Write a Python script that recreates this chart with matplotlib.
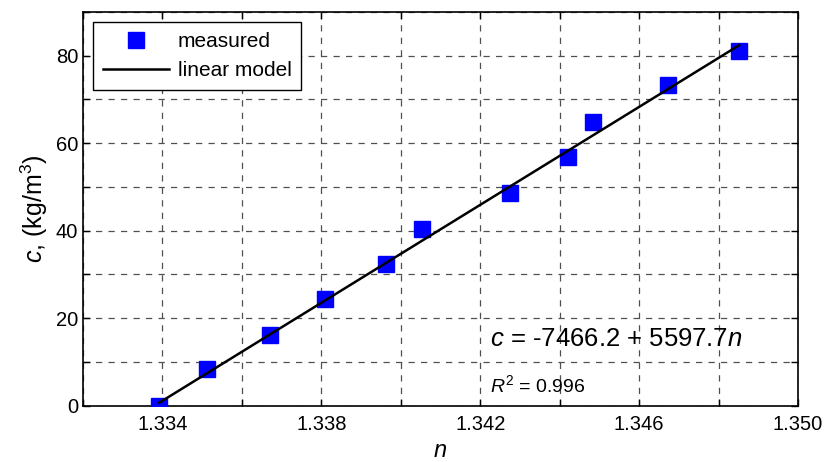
import numpy as np
import matplotlib
matplotlib.use('Agg')
import matplotlib.pyplot as plt
from matplotlib.ticker import MultipleLocator

plt.rcParams['font.family'] = ['Liberation Sans', 'DejaVu Sans']
plt.rcParams['mathtext.fontset'] = 'custom'
plt.rcParams['mathtext.it'] = 'Liberation Sans:italic'
plt.rcParams['mathtext.rm'] = 'Liberation Sans'

# measured refractive index vs concentration
n_meas = [1.33392, 1.33513, 1.33672, 1.33810, 1.33962, 1.34053,
          1.34275, 1.34422, 1.34485, 1.34673, 1.34852]
c_meas = [0.0, 8.3, 16.1, 24.4, 32.3, 40.5, 48.6, 56.9, 64.9, 73.2, 81.0]

# linear model coefficients
b0 = -7466.2
b1 = 5597.7
r2 = 0.996

n_fit = np.array([n_meas[0], n_meas[-1]])
c_fit = b0 + b1 * n_fit

fig = plt.figure(figsize=(8.26, 4.62), dpi=100)
ax = fig.add_axes([83 / 826, 1 - 405.7 / 462, 715 / 826, 393.7 / 462])

ax.plot(n_meas, c_meas, 's', color='#0000ff', markersize=11.5, label='measured', zorder=3)
ax.plot(n_fit, c_fit, '-', color='black', lw=1.8, label='linear model', zorder=4)

ax.set_xlim(1.332, 1.350)
ax.set_ylim(0, 90)
ax.xaxis.set_minor_locator(MultipleLocator(0.002))
ax.yaxis.set_major_locator(MultipleLocator(20))
ax.yaxis.set_minor_locator(MultipleLocator(10))
ax.set_xticks([1.334, 1.338, 1.342, 1.346, 1.350])
ax.set_xticklabels(['1.334', '1.338', '1.342', '1.346', '1.350'])

ax.tick_params(which='both', direction='in', top=True, right=True, labelsize=14.5, length=5, width=1)
ax.tick_params(axis='x', pad=7)
ax.grid(True, which='both', linestyle=(0, (5, 5)), color='#505050', linewidth=0.9)
for s in ax.spines.values():
    s.set_linewidth(1.2)

ax.set_xlabel('$n$', fontsize=17, labelpad=4)
ax.set_ylabel('$c$, (kg/m$^3$)', fontsize=18, labelpad=4)

ax.text(1.34225, 15.2, '$c$ = -7466.2 + 5597.7$n$', fontsize=18.5, va='center')
ax.text(1.34225, 4.7, '$R^2$ = %.3f' % r2, fontsize=14, va='center')

leg = ax.legend(loc='upper left', fontsize=15, fancybox=False, framealpha=1,
                edgecolor='black', borderpad=0.45, handlelength=3.2, handletextpad=0.4,
                labelspacing=0.5, borderaxespad=0.5)
leg.get_frame().set_linewidth(1.0)

fig.savefig('out.png', dpi=100)
